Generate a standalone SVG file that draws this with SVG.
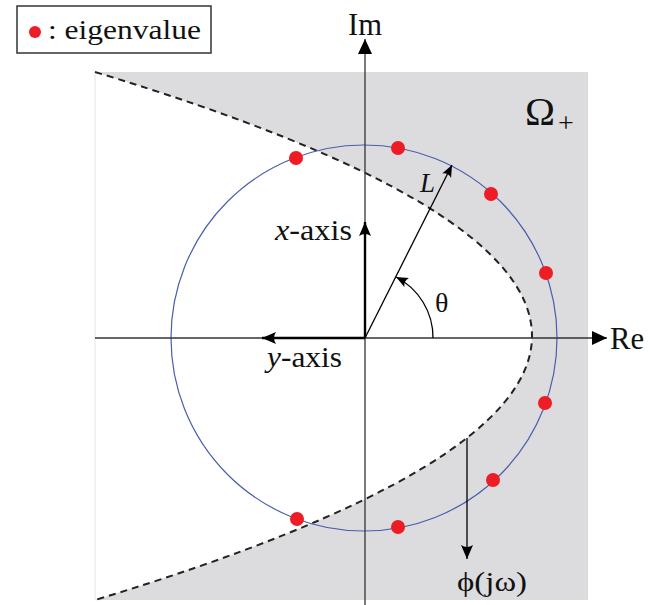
<svg xmlns="http://www.w3.org/2000/svg" width="653" height="605" viewBox="0 0 653 605">
<style>
text{font-family:"Liberation Serif","Times New Roman","DejaVu Serif",serif;fill:#111;}
.ax{stroke:#333;stroke-width:1.3;fill:none;}
.thick{stroke:#000;stroke-width:2.4;fill:none;}
.thin{stroke:#000;stroke-width:1.3;fill:none;}
.eig{fill:#ee1c25;}
</style>
<defs>
<marker id="tri" markerWidth="16" markerHeight="14" refX="15" refY="7" orient="auto" markerUnits="userSpaceOnUse">
<path d="M0,0 L15,7 L0,14 Z" fill="#000"/>
</marker>
<marker id="stealth" markerWidth="16" markerHeight="14" refX="14" refY="7" orient="auto" markerUnits="userSpaceOnUse">
<path d="M0,1 L14,7 L0,13 Q4,7 0,1 Z" fill="#000"/>
</marker>
<marker id="stealthS" markerWidth="14" markerHeight="12" refX="12" refY="6" orient="auto" markerUnits="userSpaceOnUse">
<path d="M0,1 L12,6 L0,11 Q3.5,6 0,1 Z" fill="#000"/>
</marker>
</defs>

<g id="region">
<path d="M95,72 L588,72 L588,600 L95,600 Q969,336 95,72 Z" fill="#dcdcdf"/>
<line x1="95" y1="72" x2="95" y2="600" stroke="#e4e4e6" stroke-width="1"/>
</g>

<g id="legend">
<rect x="17" y="6" width="194" height="47" fill="#fff" stroke="#333" stroke-width="1.5"/>
<circle class="eig" cx="35" cy="32" r="6"/>
<text x="48" y="39" font-size="28" textLength="153" lengthAdjust="spacingAndGlyphs">: eigenvalue</text>
</g>

<g id="boundary">
<path d="M95,72 Q969,336 95,600" fill="none" stroke="#222" stroke-width="2" stroke-dasharray="7,5"/>
</g>

<g id="circle">
<circle cx="364" cy="338" r="193" fill="none" stroke="#4a5eab" stroke-width="1.2"/>
</g>

<g id="connectors">
<line class="ax" x1="95" y1="338" x2="607" y2="338" marker-end="url(#tri)"/>
<line class="ax" x1="365" y1="605" x2="365" y2="39" marker-end="url(#tri)"/>
<line class="thick" x1="365" y1="338" x2="365" y2="222" marker-end="url(#stealth)"/>
<line class="thick" x1="365" y1="338" x2="262" y2="338" marker-end="url(#stealth)"/>
<line class="thin" x1="365" y1="338" x2="452" y2="165" marker-end="url(#stealthS)"/>
<path class="thin" d="M433,338 A68,68 0 0 0 396,277" marker-end="url(#stealthS)"/>
<line class="thin" x1="467" y1="438" x2="467" y2="559" marker-end="url(#stealth)"/>
</g>

<g id="eigenvalues">
<circle class="eig" cx="296" cy="158" r="7"/>
<circle class="eig" cx="398" cy="148" r="7"/>
<circle class="eig" cx="491" cy="194" r="7"/>
<circle class="eig" cx="546" cy="273" r="7"/>
<circle class="eig" cx="545" cy="403" r="7"/>
<circle class="eig" cx="493" cy="480" r="7"/>
<circle class="eig" cx="398" cy="527" r="7"/>
<circle class="eig" cx="297" cy="519" r="7"/>
</g>

<g id="labels">
<text x="348" y="35" font-size="31" textLength="34" lengthAdjust="spacingAndGlyphs">Im</text>
<text x="610" y="349" font-size="31" textLength="34" lengthAdjust="spacingAndGlyphs">Re</text>
<text x="525" y="125" font-size="40" textLength="30" lengthAdjust="spacingAndGlyphs">Ω</text>
<text x="558" y="132" font-size="28">+</text>
<text x="275" y="240" font-size="30" textLength="77" lengthAdjust="spacingAndGlyphs"><tspan font-style="italic">x</tspan>-axis</text>
<text x="267" y="367" font-size="30" textLength="75" lengthAdjust="spacingAndGlyphs"><tspan font-style="italic">y</tspan>-axis</text>
<text x="420" y="192" font-size="27" font-style="italic">L</text>
<text x="435" y="312" font-size="28">θ</text>
<text x="457" y="591" font-size="28" textLength="70" lengthAdjust="spacingAndGlyphs">ϕ(jω)</text>
</g>
</svg>
